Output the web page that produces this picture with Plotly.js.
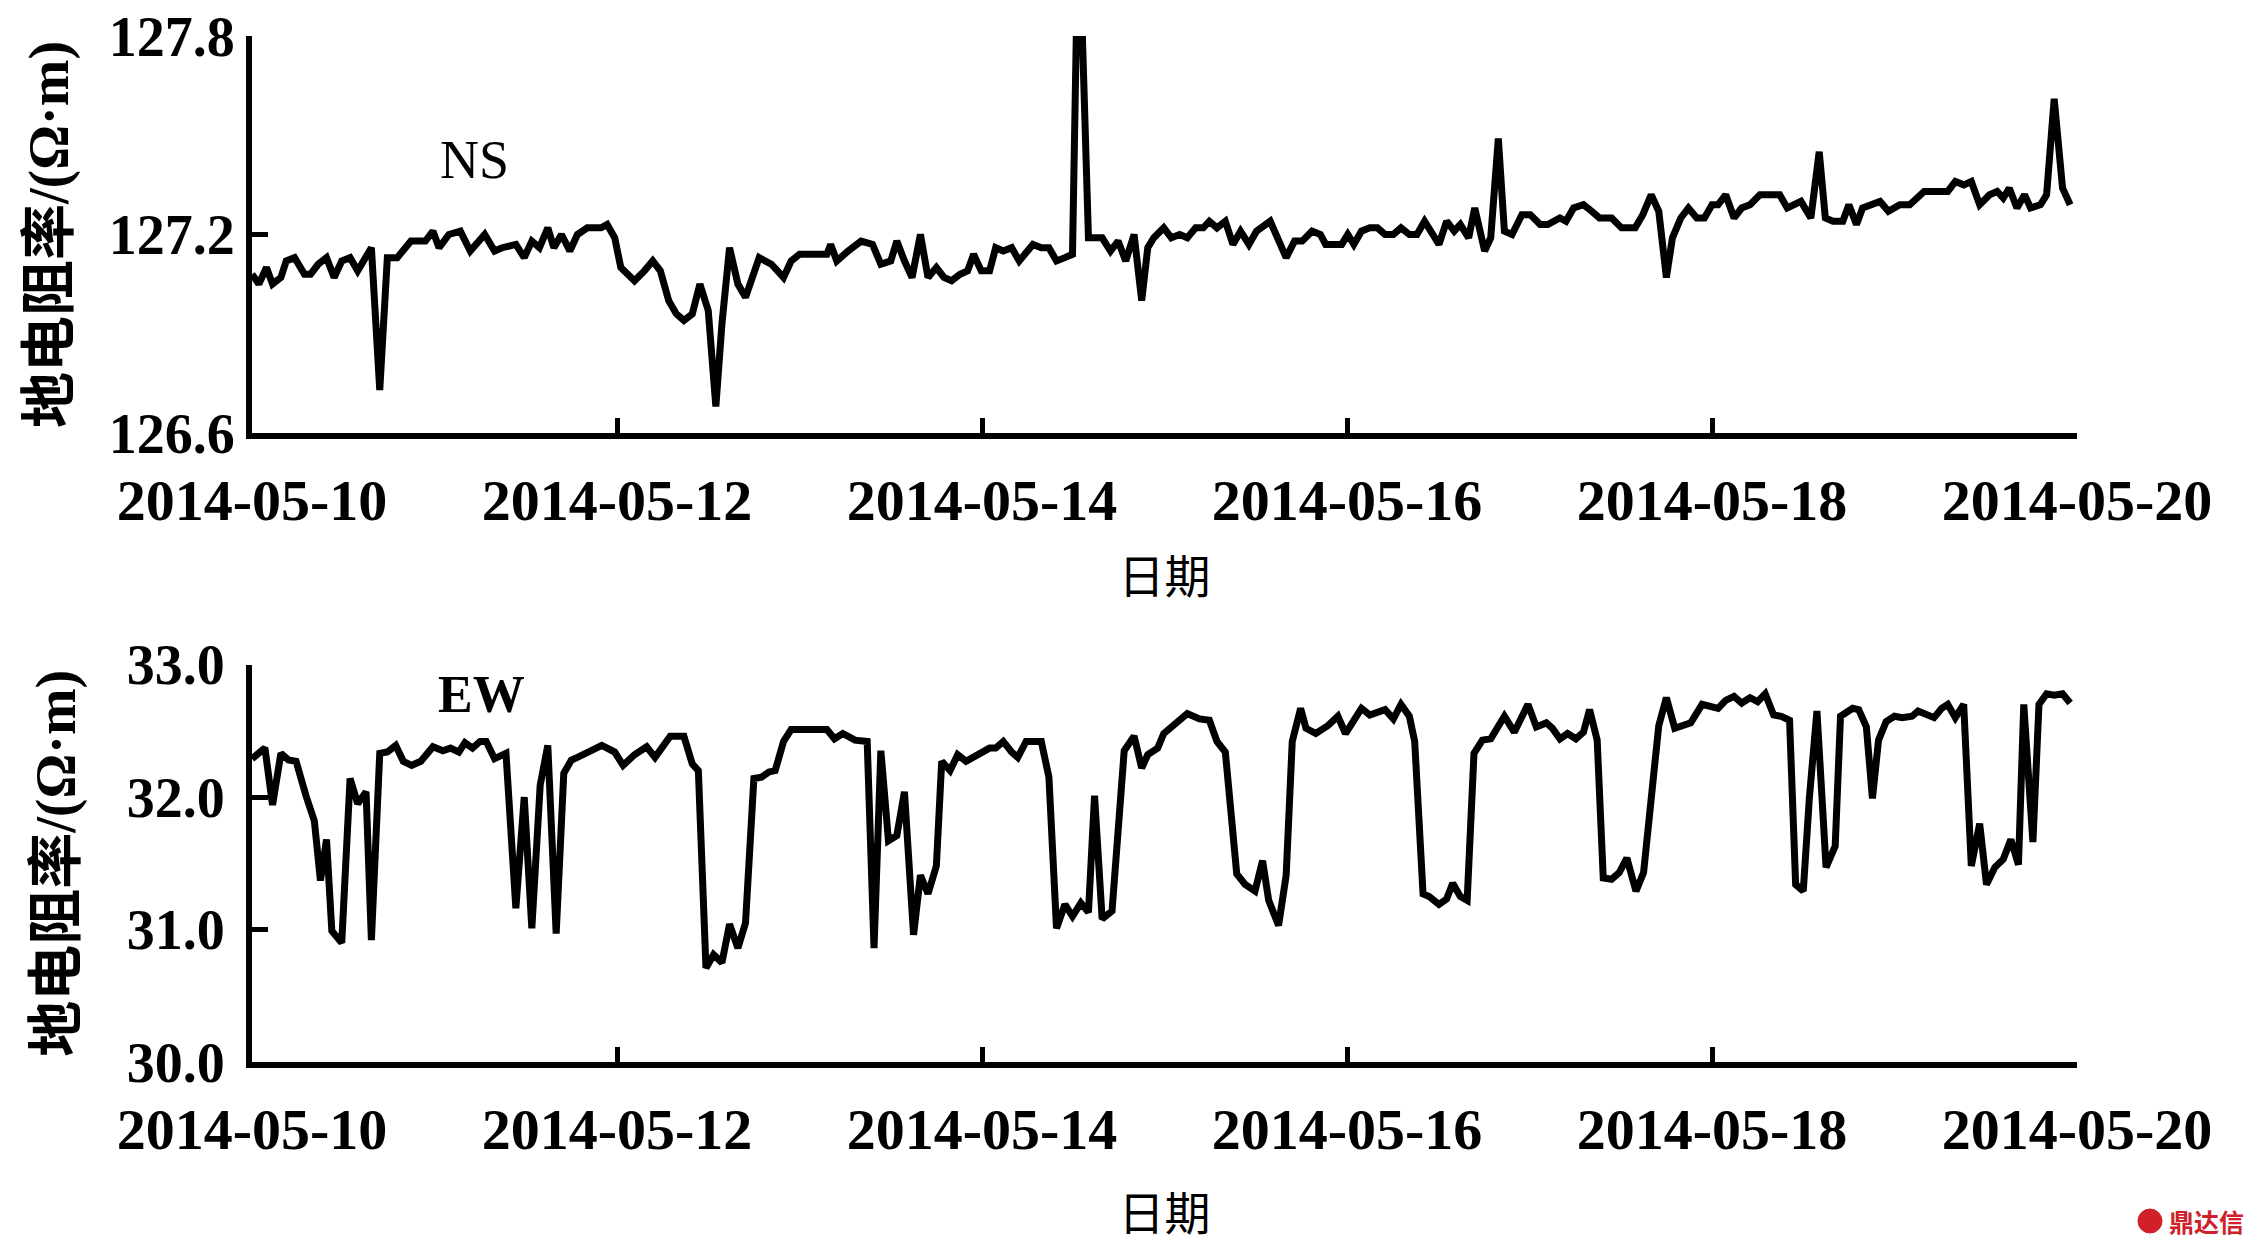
<!DOCTYPE html>
<html>
<head>
<meta charset="utf-8">
<script src="https://cdn.plot.ly/plotly-3.0.1.min.js"></script>
<style>html,body{margin:0;padding:0;background:#fff;}#chart{width:2244px;height:1244px;}</style>
</head>
<body>
<div id="chart"></div>
<script>
// Start of the record (hour offsets are counted from here)
const startDate = '2014-05-10';
const xTickLabels = ['2014-05-10','2014-05-12','2014-05-14','2014-05-16','2014-05-18','2014-05-20'];

// NS component: hour offsets and apparent resistivity (Ω·m)
const nsHours = [0,0.9,1.9,2.7,3.8,4.5,5.6,6.9,7.7,8.7,9.8,10.8,11.8,12.9,13.9,15.7,16.8,17.8,19.1,19.9,20.9,22.8,23.8,24.6,25.9,27.4,28.7,30.6,31.9,32.9,34.7,35.8,36.8,37.8,38.9,39.7,40.7,41.8,42.8,44.1,45.9,46.7,47.7,48.5,49.3,50.3,51.6,52.7,53.7,54.8,55.8,56.8,57.9,58.9,60.0,61.0,61.8,62.8,63.9,64.9,66.7,68.3,69.9,70.9,72.0,75.6,76.1,76.9,78.4,80.1,81.6,82.7,84.0,84.8,85.8,86.8,87.9,88.9,90.0,91.0,92.0,93.1,94.1,94.9,95.9,97.0,97.8,98.8,99.9,100.9,102.7,103.8,104.8,105.8,106.9,107.9,108.4,109.2,110.0,111.8,112.9,113.9,114.9,116.0,117.0,117.8,118.6,119.9,120.9,122.0,123.0,124.1,125.1,125.9,126.9,128.0,129.0,130.0,131.1,132.1,133.9,135.0,136.0,137.1,138.1,139.4,140.5,141.2,143.3,144.1,144.9,145.9,147.0,148.0,149.0,150.1,151.1,152.2,153.2,154.2,156.1,157.1,158.1,158.9,160.0,160.8,162.1,162.9,163.9,164.7,165.7,167.0,168.1,169.4,170.4,172.0,172.8,173.8,175.1,176.2,177.2,178.8,180.1,181.9,182.9,184.0,185.0,186.0,186.8,187.9,188.9,190.0,191.0,192.0,192.8,193.8,194.9,195.9,197.0,198.3,200.9,201.9,203.7,205.0,206.1,206.9,207.9,209.2,210.0,211.0,211.8,214.1,215.2,216.7,218.0,219.9,223.0,224.0,225.1,226.1,227.2,228.5,229.5,230.3,231.1,232.1,233.1,233.9,235.2,236.0,237.0,238.1,239.1];
const nsValues = [127.08,127.05,127.10,127.05,127.07,127.12,127.13,127.08,127.08,127.11,127.13,127.07,127.12,127.13,127.09,127.16,126.73,127.13,127.13,127.15,127.18,127.18,127.21,127.16,127.20,127.21,127.15,127.20,127.15,127.16,127.17,127.13,127.18,127.16,127.22,127.16,127.20,127.15,127.20,127.22,127.22,127.23,127.19,127.10,127.08,127.06,127.09,127.12,127.09,127.00,126.96,126.94,126.96,127.05,126.97,126.68,126.93,127.16,127.05,127.01,127.13,127.11,127.07,127.12,127.14,127.14,127.17,127.12,127.15,127.18,127.17,127.11,127.12,127.18,127.12,127.07,127.20,127.07,127.10,127.07,127.06,127.08,127.09,127.14,127.09,127.09,127.16,127.15,127.16,127.12,127.17,127.16,127.16,127.12,127.13,127.14,127.80,127.80,127.19,127.19,127.15,127.18,127.12,127.20,127.00,127.16,127.19,127.22,127.19,127.20,127.19,127.22,127.22,127.24,127.22,127.24,127.17,127.21,127.17,127.21,127.24,127.18,127.13,127.18,127.18,127.21,127.20,127.17,127.17,127.20,127.17,127.21,127.22,127.22,127.20,127.20,127.22,127.20,127.20,127.24,127.17,127.24,127.21,127.23,127.19,127.28,127.15,127.19,127.49,127.21,127.20,127.26,127.26,127.23,127.23,127.25,127.24,127.28,127.29,127.27,127.25,127.25,127.22,127.22,127.26,127.32,127.27,127.07,127.19,127.25,127.28,127.25,127.25,127.29,127.29,127.32,127.25,127.28,127.29,127.32,127.32,127.28,127.30,127.25,127.45,127.25,127.24,127.24,127.29,127.23,127.28,127.30,127.27,127.29,127.29,127.33,127.33,127.36,127.35,127.36,127.29,127.32,127.33,127.31,127.34,127.28,127.32,127.28,127.29,127.32,127.61,127.34,127.29];

// EW component: hour offsets and apparent resistivity (Ω·m)
const ewHours = [0,1.7,2.7,3.8,4.8,5.8,7.1,8.2,9.0,9.8,10.5,11.8,12.9,13.9,15.0,15.7,16.8,17.8,18.9,19.9,21.0,22.2,23.8,25.1,26.1,27.2,28.0,29.0,30.0,30.8,31.9,33.4,34.7,35.8,36.8,37.9,38.9,40.0,41.0,42.0,42.8,44.9,46.0,47.7,48.8,50.3,51.9,53.0,54.0,55.0,56.8,57.9,58.7,59.7,60.7,61.8,62.8,63.9,64.9,66.0,67.0,68.0,68.8,69.9,70.9,72.0,75.6,76.6,77.7,79.3,80.9,81.8,82.7,83.7,84.8,85.8,87.0,87.9,88.9,90.0,90.7,91.8,92.8,93.9,94.9,97.0,97.8,98.8,99.9,100.7,101.8,103.8,104.8,105.8,106.9,107.9,109.0,110.0,110.8,111.8,113.1,114.7,116.0,117.0,117.8,119.1,119.9,121.2,123.0,124.6,125.9,126.9,128.0,129.5,130.6,131.9,132.9,133.7,135.0,136.0,136.8,137.9,138.6,139.9,141.5,142.8,143.8,145.9,147.0,149.0,150.1,151.1,152.2,152.9,154.0,154.8,156.1,157.1,157.9,158.9,159.8,160.7,161.8,162.9,164.7,166.0,167.8,168.9,170.2,171.0,172.0,173.0,174.1,175.1,175.9,176.9,177.7,178.8,179.8,180.8,182.0,183.0,185.0,186.0,187.1,189.2,190.7,192.8,193.8,194.9,195.9,197.0,198.0,199.0,200.1,201.1,202.2,203.0,204.0,204.8,205.8,207.0,208.2,208.9,210.5,211.3,212.3,213.1,213.9,214.9,216.0,217.0,218.3,219.1,220.1,221.2,222.2,223.0,224.0,225.1,226.1,227.2,228.1,229.2,230.3,231.3,232.3,233.0,234.2,235.0,236.0,237.0,238.1,239.1];
const ewValues = [32.29,32.37,31.94,32.33,32.28,32.27,32.01,31.82,31.37,31.68,30.99,30.90,32.14,31.95,32.04,30.92,32.33,32.34,32.39,32.27,32.24,32.27,32.38,32.35,32.37,32.34,32.41,32.37,32.42,32.42,32.29,32.33,31.16,32.00,31.01,32.09,32.39,30.97,32.18,32.28,32.30,32.35,32.39,32.34,32.24,32.32,32.38,32.30,32.37,32.46,32.46,32.25,32.20,30.71,30.81,30.75,31.04,30.86,31.05,32.14,32.15,32.19,32.20,32.42,32.51,32.51,32.51,32.44,32.48,32.43,32.42,30.86,32.35,31.67,31.71,32.04,30.96,31.41,31.27,31.48,32.27,32.20,32.32,32.27,32.30,32.37,32.37,32.42,32.34,32.30,32.42,32.42,32.15,31.01,31.19,31.10,31.20,31.13,32.01,31.08,31.14,32.35,32.46,32.22,32.32,32.37,32.48,32.54,32.63,32.59,32.58,32.42,32.34,31.42,31.34,31.29,31.52,31.22,31.03,31.41,32.42,32.67,32.52,32.48,32.54,32.61,32.48,32.67,32.62,32.66,32.59,32.70,32.61,32.42,31.27,31.25,31.19,31.23,31.35,31.25,31.22,32.33,32.43,32.44,32.61,32.49,32.70,32.53,32.56,32.52,32.44,32.48,32.44,32.49,32.66,32.43,31.39,31.38,31.43,31.54,31.29,31.43,32.54,32.75,32.52,32.56,32.70,32.67,32.73,32.76,32.71,32.75,32.72,32.78,32.62,32.61,32.58,31.34,31.29,31.99,32.65,31.47,31.63,32.61,32.67,32.66,32.53,31.99,32.43,32.57,32.61,32.60,32.61,32.65,32.62,32.60,32.67,32.70,32.60,32.70,31.48,31.80,31.34,31.47,31.53,31.68,31.49,32.70,31.66,32.70,32.78,32.77,32.78,32.71];

function toDates(hours) {
  const base = Date.UTC(2014, 4, 10);
  return hours.map(h => new Date(base + Math.round(h * 3600000)).toISOString().slice(0, 19).replace('T', ' '));
}

const serif = 'Liberation Serif, Times New Roman, Noto Sans CJK SC, serif';
const cjk = 'Liberation Serif, Noto Sans CJK SC, sans-serif';

const traces = [
  {x: toDates(nsHours), y: nsValues, type: 'scatter', mode: 'lines', xaxis: 'x', yaxis: 'y',
   line: {color: '#000', width: 7}, hoverinfo: 'x+y', name: 'NS'},
  {x: toDates(ewHours), y: ewValues, type: 'scatter', mode: 'lines', xaxis: 'x2', yaxis: 'y2',
   line: {color: '#000', width: 7}, hoverinfo: 'x+y', name: 'EW'}
];

const yTickFont = {family: serif, size: 56, color: '#000', weight: 'bold'};
const xTickFont = {family: serif, size: 58, color: '#000', weight: 'bold'};

function xAxis(anchor, titleStandoff) {
  return {
    type: 'date', anchor: anchor, domain: [0, 1],
    range: [startDate, '2014-05-20'],
    tickmode: 'array',
    tickvals: xTickLabels, ticktext: xTickLabels,
    ticks: 'inside', ticklen: 15, tickwidth: 5, tickcolor: '#000',
    showline: true, linewidth: 6, linecolor: '#000',
    showgrid: false, zeroline: false,
    tickfont: xTickFont, ticklabelstandoff: 11,
    title: {text: '日期', font: {family: cjk, size: 46, color: '#000'}, standoff: titleStandoff}
  };
}
function yAxis(anchor, domain, range, dtick, labelStandoff, titleStandoff) {
  return {
    anchor: anchor, domain: domain, range: range,
    tickmode: 'linear', tick0: range[0], dtick: dtick, tickformat: '.1f',
    ticks: 'inside', ticklen: 16, tickwidth: 5, tickcolor: '#000',
    showline: true, linewidth: 6, linecolor: '#000',
    showgrid: false, zeroline: false,
    tickfont: yTickFont, ticklabelstandoff: labelStandoff,
    title: {text: '地电阻率/(Ω·m)', font: {family: cjk, size: 56, color: '#000', weight: 'bold'}, standoff: titleStandoff}
  };
}

const layout = {
  width: 2244, height: 1244,
  margin: {l: 252, r: 167, t: 36, b: 182},
  paper_bgcolor: '#fff', plot_bgcolor: '#fff',
  showlegend: false,
  font: {family: serif, color: '#000'},
  xaxis: xAxis('y', 31),
  yaxis: yAxis('x', [0.6131, 1], [126.6, 127.8], 0.6, 0, 24),
  xaxis2: xAxis('y2', 39),
  yaxis2: yAxis('x2', [0, 0.3873], [30, 33], 1, 10, 35),
  annotations: [
    {text: 'NS', xref: 'x domain', yref: 'y domain', x: 0.122, y: 0.688, xanchor: 'center', yanchor: 'middle',
     showarrow: false, font: {family: serif, size: 54, color: '#000'}},
    {text: 'EW', xref: 'x2 domain', yref: 'y2 domain', x: 0.126, y: 0.926, xanchor: 'center', yanchor: 'middle',
     showarrow: false, font: {family: serif, size: 52, color: '#000', weight: 'bold'}},
    {text: '鼎达信', xref: 'paper', yref: 'paper', x: 1.071, y: -0.155, xanchor: 'center', yanchor: 'middle',
     showarrow: false, font: {family: 'Noto Sans CJK SC, sans-serif', size: 25, color: '#d0202a', weight: 'bold'}}
  ],
  shapes: [
    {type: 'circle', xref: 'paper', yref: 'paper', x0: 1.0334, x1: 1.0466, y0: -0.1667, y1: -0.1433,
     fillcolor: '#d0202a', line: {color: '#d0202a', width: 1}}
  ]
};

Plotly.newPlot('chart', traces, layout, {displayModeBar: false, staticPlot: true});
</script>
</body>
</html>
